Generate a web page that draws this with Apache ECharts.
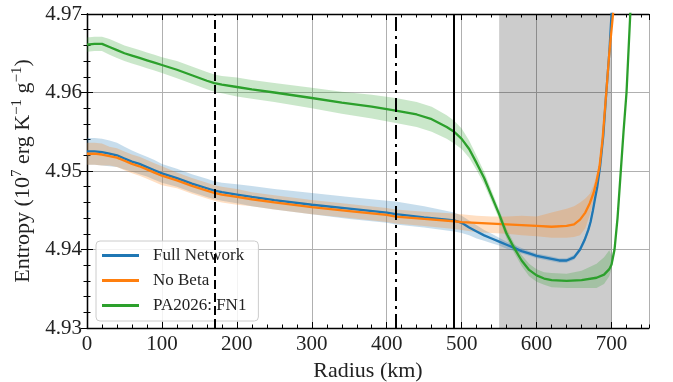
<!DOCTYPE html>
<html>
<head>
<meta charset="utf-8">
<script src="https://cdn.jsdelivr.net/npm/echarts@6/dist/echarts.min.js"></script>
<style>
  html, body { margin: 0; padding: 0; background: #fff; }
  #chart { width: 673px; height: 382px; }
</style>
</head>
<body>
<div id="chart"></div>
<script>
// Entropy profiles (10^7 erg K^-1 g^-1) versus radius (km), with uncertainty bands.
const rFull = [0, 10, 20, 30, 40, 50, 60, 70, 80, 90, 100, 120, 140, 160, 170, 180, 200, 220, 250, 300, 350, 400, 412, 450, 490, 500, 510, 520, 530, 540, 550, 560, 570, 580, 590, 600, 610, 620, 630, 640, 650, 658, 664, 669, 672, 675, 678, 681, 685, 689, 693, 697, 700, 704];
const sFull = [4.9525, 4.9525, 4.9524, 4.9522, 4.9520, 4.9516, 4.9512, 4.9509, 4.9505, 4.9501, 4.9497, 4.9491, 4.9484, 4.9478, 4.9475, 4.9473, 4.9470, 4.9467, 4.9463, 4.9457, 4.9452, 4.9447, 4.9445, 4.9441, 4.9437, 4.9434, 4.9428, 4.9423, 4.9418, 4.9414, 4.9410, 4.9406, 4.9402, 4.9398, 4.9395, 4.9392, 4.9390, 4.9388, 4.9386, 4.9386, 4.9390, 4.9400, 4.9412, 4.9425, 4.9435, 4.9449, 4.9465, 4.9480, 4.9508, 4.9545, 4.9600, 4.9650, 4.9700, 4.9760];
const sFullLo = [4.9508, 4.9508, 4.9507, 4.9506, 4.9505, 4.9502, 4.9499, 4.9496, 4.9493, 4.9489, 4.9485, 4.9480, 4.9473, 4.9467, 4.9464, 4.9462, 4.9459, 4.9455, 4.9451, 4.9445, 4.9439, 4.9434, 4.9432, 4.9428, 4.9423, 4.9421, 4.9418, 4.9414, 4.9411, 4.9408, 4.9405, 4.9401, 4.9398, 4.9395, 4.9392, 4.9389, 4.9387, 4.9385, 4.9383, 4.9383, 4.9387, 4.9397, 4.9408, 4.9421, 4.9431, 4.9445, 4.9461, 4.9476, 4.9504, 4.9541, 4.9596, 4.9646, 4.9696, 4.9756];
const sFullHi = [4.9542, 4.9542, 4.9541, 4.9539, 4.9536, 4.9531, 4.9526, 4.9522, 4.9518, 4.9514, 4.9509, 4.9503, 4.9496, 4.9490, 4.9487, 4.9485, 4.9483, 4.9481, 4.9477, 4.9472, 4.9467, 4.9462, 4.9461, 4.9455, 4.9447, 4.9443, 4.9437, 4.9431, 4.9425, 4.9420, 4.9415, 4.9410, 4.9406, 4.9402, 4.9398, 4.9395, 4.9393, 4.9391, 4.9389, 4.9389, 4.9393, 4.9403, 4.9416, 4.9429, 4.9439, 4.9453, 4.9469, 4.9484, 4.9512, 4.9549, 4.9604, 4.9654, 4.9704, 4.9764];

const rNoBeta = [0, 10, 20, 30, 40, 50, 60, 70, 80, 90, 100, 120, 140, 160, 170, 180, 200, 220, 250, 300, 350, 400, 412, 450, 490, 500, 520, 540, 560, 580, 600, 620, 640, 650, 658, 665, 671, 676, 680, 684, 688, 693, 697, 702, 706];
const sNoBeta = [4.9522, 4.9522, 4.9521, 4.9519, 4.9517, 4.9513, 4.9509, 4.9506, 4.9502, 4.9498, 4.9494, 4.9488, 4.9481, 4.9475, 4.9472, 4.9470, 4.9467, 4.9464, 4.9460, 4.9454, 4.9449, 4.9444, 4.9442, 4.9439, 4.9436, 4.9435, 4.9434, 4.9433, 4.9432, 4.9431, 4.9430, 4.9429, 4.9430, 4.9432, 4.9438, 4.9447, 4.9459, 4.9472, 4.9487, 4.9506, 4.9540, 4.9600, 4.9650, 4.9700, 4.9760];
const sNoBetaLo = [4.9508, 4.9508, 4.9507, 4.9507, 4.9505, 4.9501, 4.9497, 4.9494, 4.9490, 4.9486, 4.9482, 4.9478, 4.9471, 4.9465, 4.9462, 4.9460, 4.9457, 4.9455, 4.9451, 4.9445, 4.9440, 4.9435, 4.9433, 4.9430, 4.9426, 4.9425, 4.9422, 4.9421, 4.9420, 4.9418, 4.9417, 4.9415, 4.9415, 4.9416, 4.9418, 4.9427, 4.9444, 4.9462, 4.9479, 4.9499, 4.9535, 4.9595, 4.9645, 4.9695, 4.9755];
const sNoBetaHi = [4.9536, 4.9536, 4.9535, 4.9531, 4.9529, 4.9525, 4.9521, 4.9518, 4.9514, 4.9510, 4.9506, 4.9498, 4.9491, 4.9485, 4.9482, 4.9480, 4.9477, 4.9473, 4.9469, 4.9463, 4.9458, 4.9453, 4.9451, 4.9448, 4.9446, 4.9445, 4.9443, 4.9442, 4.9442, 4.9443, 4.9442, 4.9447, 4.9452, 4.9455, 4.9460, 4.9465, 4.9471, 4.9482, 4.9495, 4.9513, 4.9545, 4.9605, 4.9655, 4.9705, 4.9765];

const rFN1 = [0, 10, 20, 30, 40, 50, 60, 70, 80, 90, 100, 120, 140, 160, 170, 180, 200, 220, 250, 300, 340, 380, 412, 440, 460, 480, 490, 500, 510, 520, 530, 540, 550, 560, 570, 580, 590, 600, 610, 620, 640, 660, 680, 690, 697, 700, 704, 708, 712, 716, 720, 725, 728];
const sFN1 = [4.9661, 4.9662, 4.9662, 4.9658, 4.9654, 4.9650, 4.9647, 4.9644, 4.9641, 4.9638, 4.9635, 4.9629, 4.9622, 4.9615, 4.9612, 4.9610, 4.9607, 4.9604, 4.9600, 4.9593, 4.9587, 4.9582, 4.9577, 4.9572, 4.9566, 4.9556, 4.9550, 4.9541, 4.9528, 4.9510, 4.9491, 4.9468, 4.9445, 4.9420, 4.9402, 4.9386, 4.9374, 4.9367, 4.9363, 4.9361, 4.9360, 4.9361, 4.9364, 4.9368, 4.9375, 4.9381, 4.9400, 4.9440, 4.9495, 4.9550, 4.9600, 4.9700, 4.9750];
const sFN1Lo = [4.9652, 4.9653, 4.9653, 4.9648, 4.9644, 4.9640, 4.9637, 4.9634, 4.9631, 4.9628, 4.9625, 4.9618, 4.9611, 4.9604, 4.9601, 4.9599, 4.9595, 4.9592, 4.9588, 4.9580, 4.9573, 4.9567, 4.9561, 4.9556, 4.9550, 4.9541, 4.9535, 4.9528, 4.9517, 4.9501, 4.9483, 4.9461, 4.9439, 4.9414, 4.9396, 4.9379, 4.9366, 4.9359, 4.9355, 4.9352, 4.9351, 4.9351, 4.9351, 4.9356, 4.9366, 4.9375, 4.9396, 4.9436, 4.9491, 4.9546, 4.9596, 4.9696, 4.9746];
const sFN1Hi = [4.9670, 4.9671, 4.9671, 4.9668, 4.9664, 4.9660, 4.9657, 4.9654, 4.9651, 4.9648, 4.9645, 4.9640, 4.9633, 4.9626, 4.9623, 4.9621, 4.9619, 4.9616, 4.9612, 4.9606, 4.9601, 4.9597, 4.9593, 4.9588, 4.9582, 4.9571, 4.9564, 4.9554, 4.9539, 4.9519, 4.9499, 4.9475, 4.9451, 4.9426, 4.9408, 4.9393, 4.9382, 4.9375, 4.9371, 4.9370, 4.9369, 4.9373, 4.9382, 4.9390, 4.9399, 4.9392, 4.9404, 4.9444, 4.9499, 4.9554, 4.9604, 4.9704, 4.9754];

// Reference radii and the shaded radius range (km)
const markerDashed = 170;
const markerDashDot = 412;
const markerSolid = 490;
const shadedRange = [550, 700];

const serifFont = '"Liberation Serif", "DejaVu Serif", serif';
const inkColor = '#222';

function pairs(r, v) { return r.map((x, i) => [x, v[i]]); }

// Uncertainty band: a polygon along the upper bound and back along the lower bound,
// placed with the chart's own coordinate system and clipped to the plot area.
function bandSeries(key, r, lo, hi, color) {
  return {
    name: key + '-band', type: 'custom', silent: true, z: 1,
    data: [[r[0], lo[0]]],
    renderItem: function (params, api) {
      const upper = r.map((x, i) => api.coord([x, hi[i]]));
      const lower = r.map((x, i) => api.coord([x, lo[i]])).reverse();
      const cs = params.coordSys;
      return {
        type: 'polygon',
        shape: { points: upper.concat(lower) },
        style: { fill: color },
        clipPath: { type: 'rect', shape: { x: cs.x, y: cs.y, width: cs.width, height: cs.height } }
      };
    }
  };
}

function mainSeries(name, r, v, color) {
  return {
    name: name, type: 'line', data: pairs(r, v), symbol: 'none',
    lineStyle: { color: color, width: 2.3 }, itemStyle: { color: color }, z: 4
  };
}

const blue = '#1f77b4', orange = '#ff7f0e', green = '#2ca02c';

const xCommon = { type: 'value', min: 0, max: 750, axisLabel: { show: false }, splitLine: { show: false } };
const yCommon = { type: 'value', min: 4.93, max: 4.97, interval: 0.01 };

const chart = echarts.init(document.getElementById('chart'), null, { renderer: 'canvas' });
chart.setOption({
  animation: false,
  grid: { left: 87, right: 24, top: 14, bottom: 54, containLabel: false, outerBoundsMode: 'none' },
  xAxis: [
    {
      type: 'value', min: 0, max: 750, interval: 100, position: 'bottom',
      name: 'Radius (km)', nameLocation: 'middle', nameGap: 28,
      nameTextStyle: { fontFamily: serifFont, fontSize: 22, color: inkColor },
      axisLine: { lineStyle: { color: '#000', width: 1.3 } },
      axisTick: { inside: true, length: 6, lineStyle: { color: '#000', width: 1 } },
      axisLabel: { fontFamily: serifFont, fontSize: 21, color: inkColor, margin: 6, showMaxLabel: false },
      splitLine: { show: true, lineStyle: { color: '#b0b0b0', width: 1 } }
    },
    Object.assign({}, xCommon, {
      interval: 20, position: 'bottom',
      axisLine: { show: false },
      axisTick: { inside: true, length: 3.5, lineStyle: { color: '#000', width: 1 } }
    }),
    Object.assign({}, xCommon, {
      interval: 100, position: 'top',
      axisLine: { lineStyle: { color: '#000', width: 1.3 } },
      axisTick: { inside: true, length: 6, lineStyle: { color: '#000', width: 1 } }
    }),
    Object.assign({}, xCommon, {
      interval: 20, position: 'top',
      axisLine: { show: false },
      axisTick: { inside: true, length: 3.5, lineStyle: { color: '#000', width: 1 } }
    })
  ],
  yAxis: [
    Object.assign({}, yCommon, {
      position: 'left',
      name: '{t|Entropy (10}{s|7}{t| erg K}{s|\u22121}{t| g}{s|\u22121}{t|)}',
      nameLocation: 'middle', nameRotate: 90, nameGap: 33,
      nameTextStyle: {
        rich: {
          t: { fontFamily: serifFont, fontSize: 22, color: inkColor, lineHeight: 27 },
          s: { fontFamily: serifFont, fontSize: 15, color: inkColor, lineHeight: 15, verticalAlign: 'top' }
        }
      },
      axisLine: { lineStyle: { color: '#000', width: 1.3 } },
      axisTick: { inside: true, length: 6, lineStyle: { color: '#000', width: 1 } },
      minorTick: { show: true, splitNumber: 5, length: 3.5, lineStyle: { color: '#000', width: 1 } },
      axisLabel: { fontFamily: serifFont, fontSize: 21, color: inkColor, margin: 5, formatter: v => v.toFixed(2) },
      splitLine: { show: true, lineStyle: { color: '#b0b0b0', width: 1 } }
    }),
    Object.assign({}, yCommon, {
      position: 'right',
      axisLine: { show: true, lineStyle: { color: '#000', width: 1.3 } },
      axisTick: { show: true, inside: true, length: 6, lineStyle: { color: '#000', width: 1 } },
      minorTick: { show: true, splitNumber: 5, length: 3.5, lineStyle: { color: '#000', width: 1 } },
      axisLabel: { show: false },
      splitLine: { show: false }
    })
  ],
  legend: {
    data: ['Full Network', 'No Beta', 'PA2026: FN1'],
    orient: 'vertical', left: 96, top: 241,
    padding: [6, 12, 7, 6], itemGap: 8,
    itemWidth: 37, itemHeight: 3, icon: 'rect',
    backgroundColor: 'rgba(255,255,255,0.85)',
    borderColor: '#cccccc', borderWidth: 1, borderRadius: 4,
    textStyle: { fontFamily: serifFont, fontSize: 17, color: inkColor, padding: [0, 0, 0, 9] }
  },
  series: [
    {
      name: 'markers', type: 'line', data: [], silent: true, z: 3,
      markArea: {
        silent: true,
        itemStyle: { color: 'rgba(0,0,0,0.2)' },
        data: [[{ xAxis: shadedRange[0] }, { xAxis: shadedRange[1] }]]
      },
      markLine: {
        silent: true, symbol: ['none', 'none'], label: { show: false },
        data: [
          { xAxis: markerDashed, lineStyle: { color: '#000', width: 2, type: [9, 4] } },
          { xAxis: markerDashDot, lineStyle: { color: '#000', width: 2, type: [14, 5, 3, 5] } },
          { xAxis: markerSolid, lineStyle: { color: '#000', width: 2, type: 'solid' } }
        ]
      }
    },
    bandSeries('full', rFull, sFullLo, sFullHi, 'rgba(31,119,180,0.25)'),
    bandSeries('nobeta', rNoBeta, sNoBetaLo, sNoBetaHi, 'rgba(255,127,14,0.25)'),
    bandSeries('fn1', rFN1, sFN1Lo, sFN1Hi, 'rgba(44,160,44,0.25)'),
    mainSeries('Full Network', rFull, sFull, blue),
    mainSeries('No Beta', rNoBeta, sNoBeta, orange),
    mainSeries('PA2026: FN1', rFN1, sFN1, green)
  ]
});
</script>
</body>
</html>
